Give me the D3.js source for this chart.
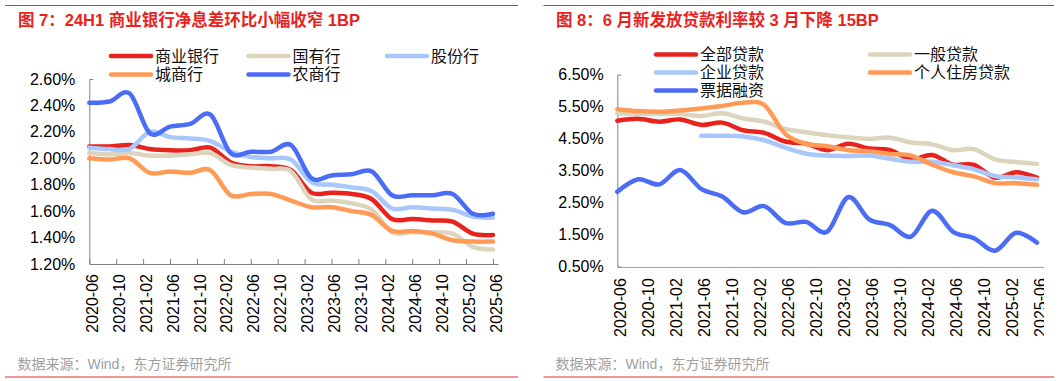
<!DOCTYPE html>
<html><head><meta charset="utf-8">
<script src="https://cdn.jsdelivr.net/npm/d3@7"></script>
<style>
html,body{margin:0;padding:0;background:#fff;}
svg{display:block;font-family:"Liberation Sans",Arial,"Noto Sans CJK SC",sans-serif;}
</style></head><body>
<svg id="c" width="1061" height="381"></svg>
<script>
// ---------- data ----------
const quarterDates = ["2020-06","2020-09","2020-12","2021-03","2021-06","2021-09","2021-12",
  "2022-03","2022-06","2022-09","2022-12","2023-03","2023-06","2023-09","2023-12",
  "2024-03","2024-06","2024-09","2024-12","2025-03","2025-06"];
const xTickLabels = ["2020-06","2020-10","2021-02","2021-06","2021-10","2022-02","2022-06",
  "2022-10","2023-02","2023-06","2023-10","2024-02","2024-06","2024-10","2025-02","2025-06"];

// left chart: NIM (%)
const leftNames = ["商业银行","国有行","股份行","城商行","农商行"];
const nimCommercial = [2.09,2.09,2.10,2.07,2.06,2.06,2.08,1.97,1.94,1.94,1.91,1.74,1.74,1.73,1.69,1.54,1.54,1.53,1.52,1.43,1.42];
const nimStateOwned = [2.04,2.03,2.04,2.02,2.02,2.03,2.04,1.95,1.93,1.92,1.90,1.69,1.68,1.66,1.61,1.44,1.44,1.44,1.43,1.33,1.31];
const nimJointStock = [2.08,2.07,2.07,2.20,2.16,2.15,2.13,2.05,2.01,2.00,1.99,1.82,1.80,1.78,1.75,1.62,1.63,1.62,1.61,1.56,1.55];
const nimCity       = [2.00,1.99,2.00,1.89,1.90,1.89,1.91,1.72,1.73,1.73,1.68,1.63,1.63,1.60,1.57,1.45,1.45,1.43,1.38,1.37,1.37];
const nimRural      = [2.42,2.43,2.49,2.19,2.24,2.26,2.33,2.04,2.05,2.05,2.10,1.85,1.87,1.88,1.90,1.72,1.72,1.72,1.73,1.58,1.58];
const leftYTicks = [1.2,1.4,1.6,1.8,2.0,2.2,2.4,2.6];

// right chart: new loan rates (%)
const rightNames = ["全部贷款","一般贷款","企业贷款","个人住房贷款","票据融资"];
const rateAll      = [5.06,5.12,5.03,5.10,4.93,5.00,4.76,4.68,4.41,4.34,4.14,4.34,4.19,4.14,3.85,3.99,3.69,3.68,3.28,3.45,3.28];
const rateGeneral  = [5.29,5.27,5.27,5.27,5.21,5.29,5.13,5.03,4.80,4.70,4.61,4.54,4.49,4.53,4.38,4.32,4.14,4.17,3.85,3.77,3.71];
const rateCorp     = [null,null,null,null,4.59,4.59,4.57,4.45,4.22,4.03,3.97,3.96,3.97,3.87,3.78,3.78,3.67,3.54,3.33,3.29,3.23];
const rateMortgage = [5.42,5.36,5.34,5.38,5.44,5.52,5.62,5.55,4.65,4.34,4.26,4.14,4.11,4.02,3.97,3.69,3.45,3.32,3.11,3.11,3.06];
const rateBill     = [2.84,3.23,3.07,3.52,2.93,2.69,2.20,2.39,1.87,1.90,1.59,2.67,1.98,1.80,1.44,2.25,1.59,1.39,1.00,1.56,1.25];
const rightYTicks = [0.5,1.5,2.5,3.5,4.5,5.5,6.5];

const colors = ["#e8231d","#ddd4bd","#a8c8fb","#ff9b57","#4b6df6"];

// ---------- helpers ----------
const monthIdx = s => { const [y,m] = s.split("-").map(Number); return (y-2020)*12 + (m-6); };
const svg = d3.select("#c");
const RED = "#e0302a";

function frame(x0, x1, titleX, title, srcX){
  svg.append("line").attr("x1",x0).attr("x2",x1).attr("y1",5.5).attr("y2",5.5).attr("stroke",RED).attr("stroke-width",1.2);
  svg.append("line").attr("x1",x0).attr("x2",x1).attr("y1",377).attr("y2",377).attr("stroke",RED).attr("stroke-width",1.2);
  svg.append("text").attr("x",titleX).attr("y",26).attr("fill","#e8231d").attr("font-size",16.5).attr("font-weight","bold").text(title);
  svg.append("text").attr("x",srcX).attr("y",368.5).attr("fill","#a0a0a0").attr("font-size",14).text("数据来源：Wind，东方证券研究所");
}

function panel(cfg){
  const x = d3.scaleLinear().domain([0, cfg.xMax]).range([cfg.xl, cfg.xr]);
  const y = d3.scaleLinear().domain(cfg.yDomain).range([cfg.yb, cfg.yt]);
  const g = svg.append("g");
  // y axis
  const ya = g.append("g").attr("transform",`translate(${cfg.xl},0)`)
    .call(d3.axisLeft(y).tickValues(cfg.yTicks).tickSizeInner(0).tickSizeOuter(-4).tickPadding(cfg.yPad)
      .tickFormat(d=>d.toFixed(2)+"%"));
  ya.select(".domain").attr("stroke","#808080");
  ya.selectAll("text").attr("font-size",16).attr("fill","#000").attr("font-family","'Liberation Sans',Arial,sans-serif");
  // x axis
  const xa = g.append("g").attr("transform",`translate(0,${cfg.yb})`)
    .call(d3.axisBottom(x).tickValues(xTickLabels.map(monthIdx)).tickSizeInner(-5).tickSizeOuter(0)
      .tickFormat((d,i)=>xTickLabels[i]));
  xa.select(".domain").attr("stroke","#808080");
  xa.selectAll(".tick line").attr("stroke","#808080");
  xa.selectAll("text").attr("font-size",16).attr("fill","#000").attr("font-family","'Liberation Sans',Arial,sans-serif")
    .attr("transform","rotate(-90)").attr("text-anchor","end")
    .attr("x",-cfg.labelGap).attr("y",2.5).attr("dy","0.35em");
  if (cfg.clipX){
    const id = "clip"+Math.round(cfg.xl);
    svg.append("clipPath").attr("id",id).append("rect").attr("x",0).attr("y",0).attr("width",cfg.clipX).attr("height",381);
    xa.attr("clip-path",`url(#${id})`);
  }
  // lines
  const line = d3.line().defined(d=>d.v!=null).x(d=>x(monthIdx(d.date))).y(d=>y(d.v)).curve(d3.curveCardinal.tension(0));
  cfg.series.forEach((s,i)=>{
    g.append("path").datum(quarterDates.map((dt,j)=>({date:dt, v:s[j]})))
      .attr("d",line).attr("fill","none").attr("stroke",colors[i]).attr("stroke-width",4.5)
      .attr("stroke-linecap","round").attr("stroke-linejoin","round");
  });
  // legend
  cfg.names.forEach((n,i)=>{
    const c = i % cfg.legCols.length, r = Math.floor(i / cfg.legCols.length);
    const lx = cfg.legCols[c], ly = cfg.legRows[r];
    g.append("line").attr("x1",lx).attr("x2",lx+40).attr("y1",ly).attr("y2",ly)
      .attr("stroke",colors[i]).attr("stroke-width",4.5).attr("stroke-linecap","round");
    g.append("text").attr("x",lx+44).attr("y",ly).attr("dy","0.36em").attr("font-size",16).attr("fill","#111")
      .attr("font-family","'Noto Sans CJK SC',sans-serif").text(n);
  });
}

frame(5, 518, 18, "图 7：24H1 商业银行净息差环比小幅收窄 1BP", 17.5);
frame(543.5, 1054, 556, "图 8：6 月新发放贷款利率较 3 月下降 15BP", 555.5);

panel({xl:89.3, xr:498, xMax:60.75, yb:264, yt:79, yDomain:[1.2,2.6], yTicks:leftYTicks, yPad:14, labelGap:10,
  series:[nimCommercial,nimStateOwned,nimJointStock,nimCity,nimRural], names:leftNames,
  legCols:[111,248.5,387], legRows:[56,74.5]});

panel({xl:617.3, xr:1044, xMax:61, yb:266.7, yt:74.6, yDomain:[0.5,6.5], yTicks:rightYTicks, yPad:13.6, labelGap:11.5,
  series:[rateAll,rateGeneral,rateCorp,rateMortgage,rateBill], names:rightNames,
  legCols:[656,870], legRows:[54.5,72.5,90.5], clipX:1044});
</script>
</body></html>
